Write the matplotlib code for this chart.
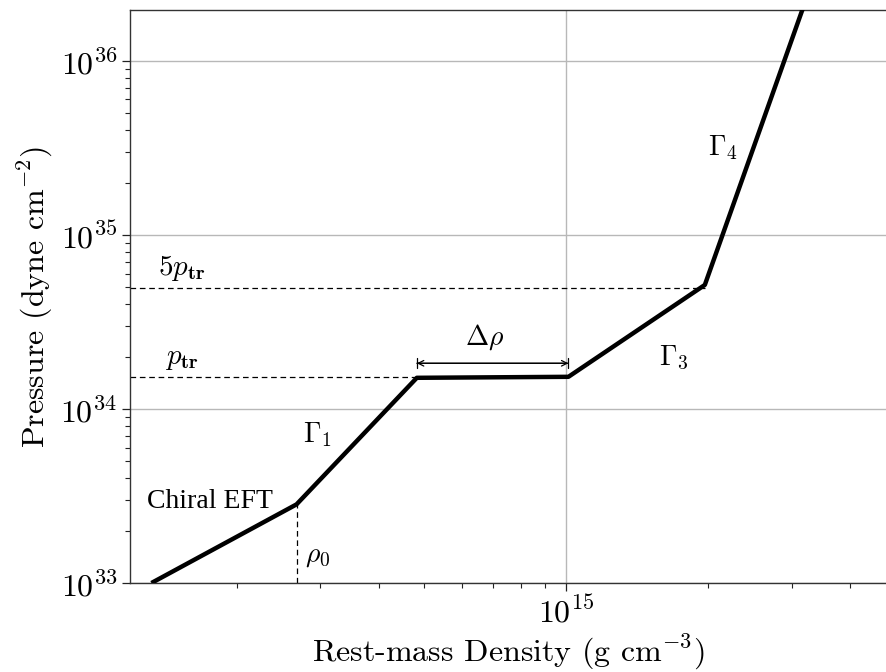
import numpy as np
import matplotlib
matplotlib.use('Agg')
import matplotlib.pyplot as plt
from matplotlib.ticker import LogLocator, NullFormatter

plt.rcParams['mathtext.fontset'] = 'cm'
plt.rcParams['font.family'] = 'cmr10'
plt.rcParams['axes.formatter.use_mathtext'] = True
plt.rcParams['axes.unicode_minus'] = False

# piecewise polytrope: chiral EFT -> Gamma1 -> phase transition plateau -> Gamma3 -> Gamma4
rho = [1.32e14, 2.68e14, 4.82e14, 1.01e15, 1.965e15, 3.17e15]
pressure = [1.0e33, 2.83e33, 1.51e34, 1.53e34, 5.16e34, 2.0e36]

p_tr = 1.52e34
p_5tr = 4.96e34
rho_0 = rho[1]
rho_tr_start = rho[2]
rho_tr_end = rho[3]
delta_rho_level = 1.83e34

xlim = (1.189e14, 4.78e15)
ylim = (1e33, 1.96e36)

fig = plt.figure(figsize=(8.87, 6.72), dpi=100)
ax = fig.add_axes([130 / 887, 89 / 672, 757 / 887, 573 / 672])

ax.set_xscale('log')
ax.set_yscale('log')
ax.set_xlim(*xlim)
ax.set_ylim(*ylim)

ax.grid(True, which='major', color='#b8b8b8', lw=1.0, zorder=0)

ax.plot(rho, pressure, color='black', lw=3.2, solid_capstyle='butt', zorder=3)

# reference levels
ax.plot([xlim[0], rho[2]], [p_tr, p_tr], color='black', lw=0.9, dashes=(4.5, 3), zorder=2)
ax.plot([xlim[0], rho[4]], [p_5tr, p_5tr], color='black', lw=0.9, dashes=(4.5, 3), zorder=2)
ax.plot([rho_0, rho_0], [ylim[0], pressure[1]], color='black', lw=0.9, dashes=(4.5, 3), zorder=2)

# width of the plateau
ax.annotate('', xy=(rho_tr_end, delta_rho_level), xytext=(rho_tr_start, delta_rho_level),
            arrowprops=dict(arrowstyle='<->', color='black', lw=0.9, shrinkA=0, shrinkB=0))
ax.annotate('', xy=(rho_tr_end, delta_rho_level), xytext=(rho_tr_start, delta_rho_level),
            arrowprops=dict(arrowstyle='|-|, widthA=0.35, widthB=0.35', color='black', lw=0.9,
                            shrinkA=0, shrinkB=0))

fs = 20
ax.text(6.1e14, 2.33e34, r'$\Delta\rho$', fontsize=fs, ha='left', va='baseline')
ax.text(2.77e14, 6.46e33, r'$\Gamma_1$', fontsize=fs, ha='left', va='baseline')
ax.text(1.57e15, 1.79e34, r'$\Gamma_3$', fontsize=fs, ha='left', va='baseline')
ax.text(2.0e15, 2.88e35, r'$\Gamma_4$', fontsize=fs, ha='left', va='baseline')
ax.text(2.79e14, 1.32e33, r'$\rho_0$', fontsize=fs, ha='left', va='baseline')
ax.text(1.36e14, 5.9e34, r'$5p_{\mathbf{tr}}$', fontsize=21, ha='left', va='baseline')
ax.text(1.41e14, 1.82e34, r'$p_{\mathbf{tr}}$', fontsize=21, ha='left', va='baseline')
ax.text(1.29e14, 2.70e33, 'Chiral EFT', fontsize=fs, ha='left', va='baseline',
        family=['Liberation Serif', 'DejaVu Serif'])

ax.set_xlabel(r'Rest-mass Density (g cm$^{-3}$)', fontsize=23)
ax.set_ylabel(r'Pressure (dyne cm$^{-2}$)', fontsize=23)

ax.xaxis.set_minor_formatter(NullFormatter())
ax.yaxis.set_minor_locator(LogLocator(base=10, subs=np.arange(2, 10)))
ax.yaxis.set_minor_formatter(NullFormatter())
ax.tick_params(which='major', labelsize=23, length=5.5, width=0.9, color='#222222')
ax.tick_params(which='minor', length=3.5, width=0.8, color='#222222')

for side in ['top', 'left', 'bottom']:
    ax.spines[side].set_color('#333333')
    ax.spines[side].set_linewidth(1.0)
ax.spines['right'].set_visible(False)

fig.savefig('out.png', dpi=100)
